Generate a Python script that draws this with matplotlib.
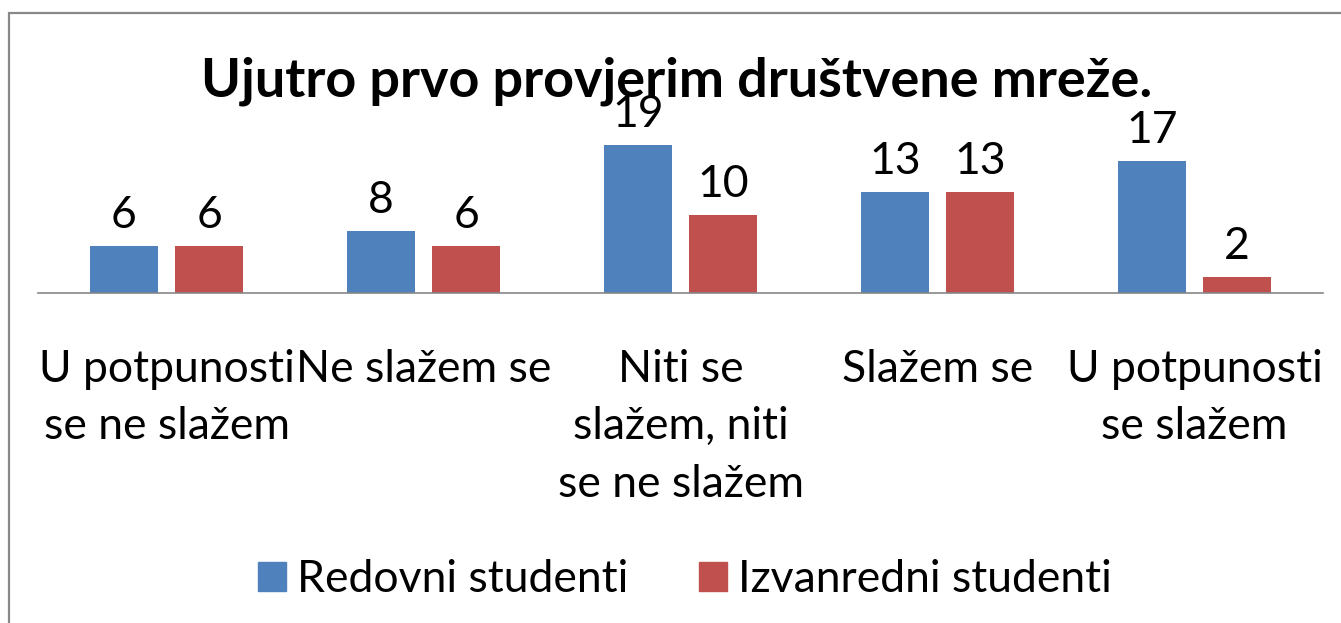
import matplotlib
matplotlib.use("Agg")
import matplotlib.pyplot as plt
from matplotlib.patches import Rectangle, Patch

plt.rcParams['font.family'] = ['Lato', 'DejaVu Sans']

categories = ["U potpunosti\nse ne slažem", "Ne slažem se",
              "Niti se\nslažem, niti\nse ne slažem", "Slažem se",
              "U potpunosti\nse slažem"]
redovni = [6, 8, 19, 13, 17]
izvanredni = [6, 6, 10, 13, 2]
series_names = ["Redovni studenti", "Izvanredni studenti"]
title = "Ujutro prvo provjerim društvene mreže."

blue, red = '#4F81BD', '#C0504D'
W, H = 1341, 623
fig = plt.figure(figsize=(W / 100, H / 100), dpi=100)

# axes placed in pixel terms: baseline at y=293, 7.79 px per unit
px_per_unit = 7.79
ymax = 20
ax = fig.add_axes([38 / W, (H - 293) / H, (1323 - 38) / W, ymax * px_per_unit / H])
ax.set_xlim(-0.5, len(categories) - 0.5)
ax.set_ylim(0, ymax)

bw, off = 0.267, 0.166
xs = range(len(categories))
b1 = ax.bar([x - off for x in xs], redovni, bw, color=blue)
b2 = ax.bar([x + off for x in xs], izvanredni, bw, color=red)

for bars, vals in ((b1, redovni), (b2, izvanredni)):
    for rect, v in zip(bars, vals):
        ax.annotate(str(v), (rect.get_x() + rect.get_width() / 2, v),
                    xytext=(0, 13), textcoords='offset points',
                    ha='center', va='baseline', fontsize=32, clip_on=False)

for s in ('top', 'left', 'right'):
    ax.spines[s].set_visible(False)
ax.spines['bottom'].set_color('#868686')
ax.spines['bottom'].set_linewidth(1.2)
ax.set_yticks([])
ax.set_xticks(list(xs))
ax.set_xticklabels(categories, fontsize=32, va='top')
ax.tick_params(axis='x', length=0, pad=40)
for lab in ax.get_xticklabels():
    lab.set_linespacing(1.5)

fig.text(677 / W, 1 - 97 / H, title, ha='center', va='baseline',
         fontsize=38.9, fontweight='bold')

handles = [Patch(color=blue), Patch(color=red)]
fig.legend(handles, series_names, loc='center', bbox_to_anchor=(685 / W, 1 - 580 / H),
           ncol=2, frameon=False, fontsize=32, handlelength=0.63, handleheight=0.63,
           handletextpad=0.25, columnspacing=1.6)

fig.add_artist(Rectangle((9 / W, -0.1), 1.2, 1 - 13 / H + 0.1, transform=fig.transFigure,
                         fill=False, ec='#898989', lw=1.6))

fig.savefig('out.png', dpi=100)
